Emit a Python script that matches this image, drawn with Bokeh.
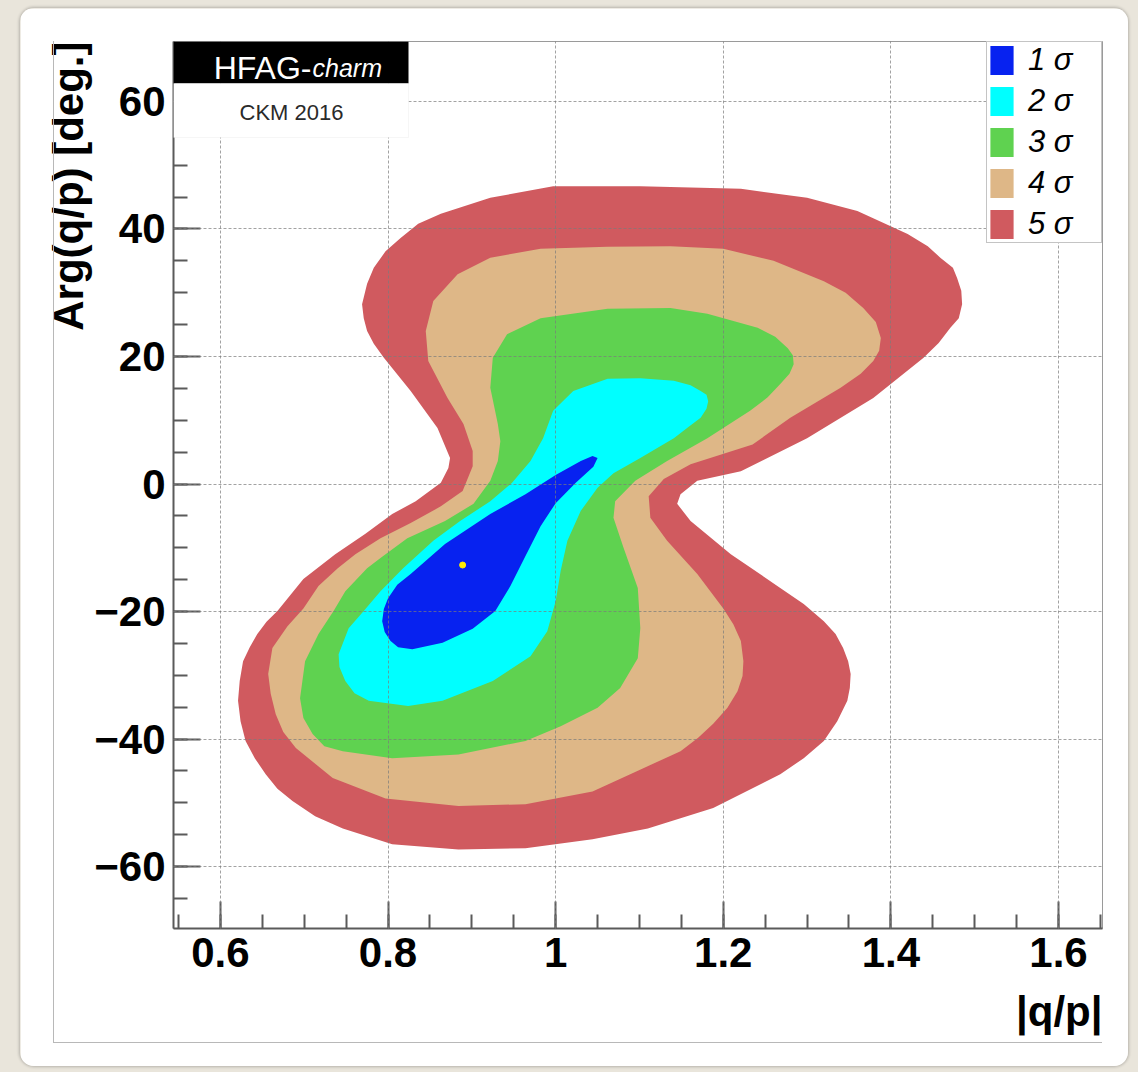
import math
from bokeh.plotting import figure
from bokeh.layouts import column
from bokeh.models import (Range1d, SingleIntervalTicker, CustomJSTickFormatter,
                          BoxAnnotation, Label, Legend, LegendItem, Title,
                          InlineStyleSheet)
from bokeh.embed import file_html
from bokeh.resources import INLINE

# ---------------- data ----------------
x_axis_range = (0.544, 1.6525)
y_axis_range = (-69.7, 69.4)
x_title = "|q/p|"
y_title = "Arg(q/p) [deg.]"

sigma_labels = ["1 σ", "2 σ", "3 σ", "4 σ", "5 σ"]
sigma_colors = ["#0722f0", "#00ffff", "#5fd250", "#deb787", "#d05a5f"]

# 5 sigma contour
x5 = [0.997, 1.101, 1.221, 1.300, 1.360, 1.420, 1.444, 1.459, 1.474, 1.479,
      1.484, 1.485, 1.481, 1.471, 1.457, 1.439, 1.379, 1.300, 1.221, 1.169,
      1.149, 1.145, 1.161, 1.209, 1.268, 1.296, 1.320, 1.334, 1.343, 1.349,
      1.352, 1.351, 1.348, 1.336, 1.320, 1.296, 1.268, 1.188, 1.110, 1.044,
      0.964, 0.884, 0.805, 0.746, 0.713, 0.686, 0.668, 0.654, 0.641, 0.630,
      0.624, 0.621, 0.623, 0.627, 0.635, 0.644, 0.655, 0.668, 0.699, 0.737,
      0.773, 0.805, 0.833, 0.863, 0.872, 0.874, 0.859, 0.827, 0.795, 0.783,
      0.775, 0.771, 0.769, 0.775, 0.783, 0.797, 0.815, 0.836, 0.863, 0.922]
y5 = [46.7, 46.7, 46.3, 44.9, 42.8, 39.2, 37.3, 35.5, 33.9, 32.3,
      30.3, 28.2, 26.0, 24.5, 22.1, 19.8, 13.5, 7.2, 2.0, 0.5,
      -1.6, -3.1, -5.8, -11.0, -16.3, -18.8, -21.5, -23.5, -25.7, -27.8,
      -29.8, -32.0, -34.0, -37.2, -40.3, -43.0, -45.5, -50.8, -54.0, -55.7,
      -57.1, -57.3, -56.5, -54.0, -52.1, -49.7, -47.8, -45.5, -43.0, -40.3,
      -37.2, -34.0, -30.9, -27.8, -25.6, -23.5, -21.6, -19.9, -14.9, -11.0,
      -7.8, -4.7, -2.7, 0.2, 2.5, 4.1, 8.8, 14.6, 19.8, 22.0,
      24.0, 26.0, 28.2, 31.4, 33.9, 36.5, 38.6, 40.8, 42.4, 44.9]

# 4 sigma contour
x4 = [0.922, 0.982, 1.062, 1.137, 1.200, 1.260, 1.320, 1.346, 1.367, 1.382,
      1.388, 1.386, 1.379, 1.364, 1.340, 1.280, 1.235, 1.161, 1.129, 1.111,
      1.113, 1.133, 1.169, 1.200, 1.212, 1.221, 1.224, 1.223, 1.217, 1.205,
      1.188, 1.170, 1.149, 1.089, 1.044, 0.964, 0.884, 0.797, 0.734, 0.690,
      0.675, 0.666, 0.660, 0.657, 0.662, 0.680, 0.699, 0.717, 0.740, 0.761,
      0.791, 0.827, 0.863, 0.889, 0.901, 0.901, 0.890, 0.871, 0.848, 0.845,
      0.854, 0.883]
y4 = [35.5, 36.9, 37.2, 37.3, 36.9, 35.0, 31.8, 30.0, 27.6, 25.4,
      22.9, 20.9, 19.3, 17.3, 15.1, 10.4, 6.2, 3.1, 0.8, -1.9,
      -5.3, -8.9, -14.1, -19.5, -22.0, -24.6, -27.8, -30.1, -32.5, -35.1,
      -37.6, -39.8, -41.9, -45.5, -48.2, -50.2, -50.5, -49.3, -46.1, -41.4,
      -38.9, -36.1, -32.9, -29.8, -25.7, -22.3, -19.5, -16.0, -13.2, -11.0,
      -8.5, -6.1, -3.5, -1.1, 2.8, 5.2, 9.4, 13.5, 19.3, 24.0,
      28.7, 32.9]

# 3 sigma contour
x3 = [0.942, 0.982, 1.062, 1.137, 1.181, 1.241, 1.262, 1.277, 1.283, 1.284,
      1.279, 1.268, 1.253, 1.232, 1.181, 1.133, 1.095, 1.071, 1.069, 1.081,
      1.098, 1.101, 1.098, 1.077, 1.050, 1.006, 0.964, 0.884, 0.805, 0.746,
      0.724, 0.710, 0.699, 0.695, 0.701, 0.717, 0.735, 0.749, 0.775, 0.791,
      0.823, 0.868, 0.902, 0.922, 0.931, 0.934, 0.931, 0.922, 0.925]
y3 = [23.5, 26.0, 27.5, 27.6, 26.7, 24.5, 23.1, 21.3, 20.2, 18.8,
      17.3, 15.7, 13.6, 11.5, 7.2, 3.6, 0.5, -2.7, -5.3, -10.0,
      -16.3, -22.6, -27.3, -32.0, -35.1, -38.0, -40.3, -42.4, -43.0, -41.9,
      -41.1, -39.2, -36.7, -33.6, -27.8, -23.5, -19.9, -16.8, -13.2, -11.6,
      -8.5, -5.8, -3.1, 0.5, 3.6, 6.7, 9.4, 15.1, 19.8]

# 2 sigma contour
x2 = [0.970, 0.985, 0.997, 1.021, 1.062, 1.101, 1.141, 1.161, 1.173, 1.180,
      1.182, 1.180, 1.173, 1.158, 1.141, 1.101, 1.069, 1.050, 1.030, 1.014,
      1.006, 1.000, 0.990, 0.970, 0.925, 0.865, 0.824, 0.777, 0.760, 0.749,
      0.742, 0.741, 0.753, 0.771, 0.791, 0.818, 0.854, 0.886, 0.922, 0.948]
y2 = [3.6, 7.2, 11.5, 14.6, 16.5, 16.6, 16.2, 15.5, 14.6, 14.0,
      13.0, 11.8, 10.4, 8.9, 7.2, 4.1, 1.7, -0.6, -4.2, -8.9,
      -13.6, -18.4, -23.1, -27.0, -30.9, -34.0, -34.8, -34.0, -32.8, -30.9,
      -28.7, -26.7, -22.6, -19.9, -16.8, -13.2, -8.9, -5.8, -2.7, 0.2]

# 1 sigma contour
x1 = [1.050, 1.045, 1.024, 1.000, 0.982, 0.964, 0.946, 0.928, 0.901, 0.865,
      0.829, 0.812, 0.803, 0.796, 0.793, 0.795, 0.800, 0.811, 0.827, 0.868,
      0.922, 0.964, 1.000, 1.030, 1.044]
y1 = [4.1, 2.7, 0.2, -3.0, -6.6, -11.3, -16.0, -19.9, -22.7, -24.9,
      -25.9, -25.6, -24.6, -23.2, -21.5, -19.6, -17.9, -15.8, -14.1, -9.4,
      -4.7, -1.6, 1.4, 3.6, 4.4]

best_fit_x = [0.889]
best_fit_y = [-12.7]

contours_x = [x1, x2, x3, x4, x5]
contours_y = [y1, y2, y3, y4, y5]

# ---------------- figure ----------------
PAGE_W, PAGE_H = 1138, 1072
OX, OY = 20, 8                      # white panel offset on the beige page
W, H = 1108, 1058                   # white panel size
FONT = "Liberation Sans"
beige = "#e9e5db"

p = figure(width=W, height=H, output_backend="svg", toolbar_location=None,
           x_range=Range1d(*x_axis_range), y_range=Range1d(*y_axis_range),
           min_border_left=173 - OX, min_border_right=OX + W - 1102,
           min_border_top=41 - OY, min_border_bottom=OY + H - 928)
p.margin = (OY, PAGE_W - OX - W, PAGE_H - OY - H, OX)
p.styles = {"border-radius": "14px", "overflow": "hidden",
            "box-shadow": "0 0 3px 1px rgba(0,0,0,0.22)"}
p.stylesheets = [InlineStyleSheet(css=(
    ":host::after {content: ''; position: absolute; left: 33px; top: 33px; "
    "width: 1049px; height: 1002px; border-left: 1px solid #b8b8b8; "
    "border-bottom: 1px solid #b8b8b8; pointer-events: none; box-sizing: border-box;}"))]
p.background_fill_color = "white"
p.border_fill_color = "white"
p.outline_line_color = "#9a9a9a"
p.outline_line_width = 1

# contours: outermost first
renderers = {}
for i in [4, 3, 2, 1, 0]:
    r = p.patch(contours_x[i], contours_y[i], fill_color=sigma_colors[i],
                line_color=None)
    renderers[i] = r

p.scatter(best_fit_x, best_fit_y, size=6, fill_color="#ffee00",
          line_color="#ffee00")

# axes
xt = SingleIntervalTicker(interval=0.2, num_minor_ticks=4)
yt = SingleIntervalTicker(interval=20, num_minor_ticks=4)
p.xaxis.ticker = xt
p.yaxis.ticker = yt
p.xgrid.ticker = xt
p.ygrid.ticker = yt
p.xaxis.formatter = CustomJSTickFormatter(
    code="return String(Math.round(tick*10)/10);")
p.yaxis.formatter = CustomJSTickFormatter(
    code="const v = Math.round(tick); return v < 0 ? '\u2212' + String(-v) : String(v);")

for ax in (p.xaxis, p.yaxis):
    ax.axis_line_color = "#5a5a5a"
    ax.axis_line_width = 2
    ax.major_tick_line_color = "#5a5a5a"
    ax.major_tick_line_width = 2
    ax.minor_tick_line_color = "#5a5a5a"
    ax.minor_tick_line_width = 2
    ax.major_tick_in = 27
    ax.major_tick_out = 0
    ax.minor_tick_in = 14
    ax.minor_tick_out = 0
    ax.major_label_text_font = FONT
    ax.major_label_text_font_style = "bold"
    ax.major_label_text_font_size = "42px"
    ax.major_label_text_color = "black"
p.xaxis.major_label_standoff = 9
p.yaxis.major_label_standoff = 8

for g in (p.xgrid, p.ygrid):
    g.grid_line_color = "#7a7a7a"
    g.grid_line_alpha = 0.7
    g.grid_line_dash = "3 2"
    g.grid_line_width = 1
    g.level = "guide"

# axis titles (ROOT style: at the far end of each axis)
p.add_layout(Title(text=y_title, align="right", offset=0, standoff=0,
                   text_font=FONT, text_font_size="42px", text_font_style="bold",
                   text_color="black"), "left")
p.add_layout(Title(text=x_title, align="right", standoff=32,
                   text_font=FONT, text_font_size="42px", text_font_style="bold",
                   text_color="black"), "below")

# HFAG header (canvas coordinates of the panel)
def cbox(l, r_, t, b, **kw):
    return BoxAnnotation(left=l - OX, right=r_ - OX, top=t - OY, bottom=b - OY,
                         left_units="canvas", right_units="canvas",
                         top_units="canvas", bottom_units="canvas", **kw)

p.add_layout(cbox(173, 408, 41, 83, fill_color="black", fill_alpha=1, line_color=None))
p.add_layout(cbox(173, 408, 83, 137, fill_color="white", fill_alpha=1,
                  line_color="#e0e0e0"))
p.add_layout(Label(x=311 - OX, y=67 - OY, x_units="canvas", y_units="canvas",
                   text="HFAG-", text_font=FONT, text_font_size="32px",
                   text_color="white", text_align="right", text_baseline="alphabetic"))
p.add_layout(Label(x=312 - OX, y=67 - OY, x_units="canvas", y_units="canvas",
                   text="charm", text_font=FONT, text_font_size="25px",
                   text_font_style="italic", text_color="white",
                   text_align="left", text_baseline="alphabetic"))
p.add_layout(Label(x=291 - OX, y=112 - OY, x_units="canvas", y_units="canvas",
                   text="CKM 2016", text_font=FONT, text_font_size="22px",
                   text_color="#2a2a2a", text_align="center",
                   text_baseline="alphabetic"))

# legend
legend = Legend(items=[LegendItem(label=sigma_labels[i], renderers=[renderers[i]])
                       for i in range(5)],
                location="top_right", orientation="vertical", margin=0, padding=0,
                spacing=5, glyph_width=29, glyph_height=36, label_standoff=12,
                label_width=73, label_height=36,
                label_text_font=FONT, label_text_font_style="italic",
                label_text_font_size="31px", label_text_color="black",
                border_line_color="#8a8a8a", border_line_width=1,
                background_fill_color="white", background_fill_alpha=1)
p.add_layout(legend)

page = column(p, width=PAGE_W, height=PAGE_H, sizing_mode="fixed",
              styles={"background-color": beige})

open("out.html", "w").write(file_html(page, INLINE))
